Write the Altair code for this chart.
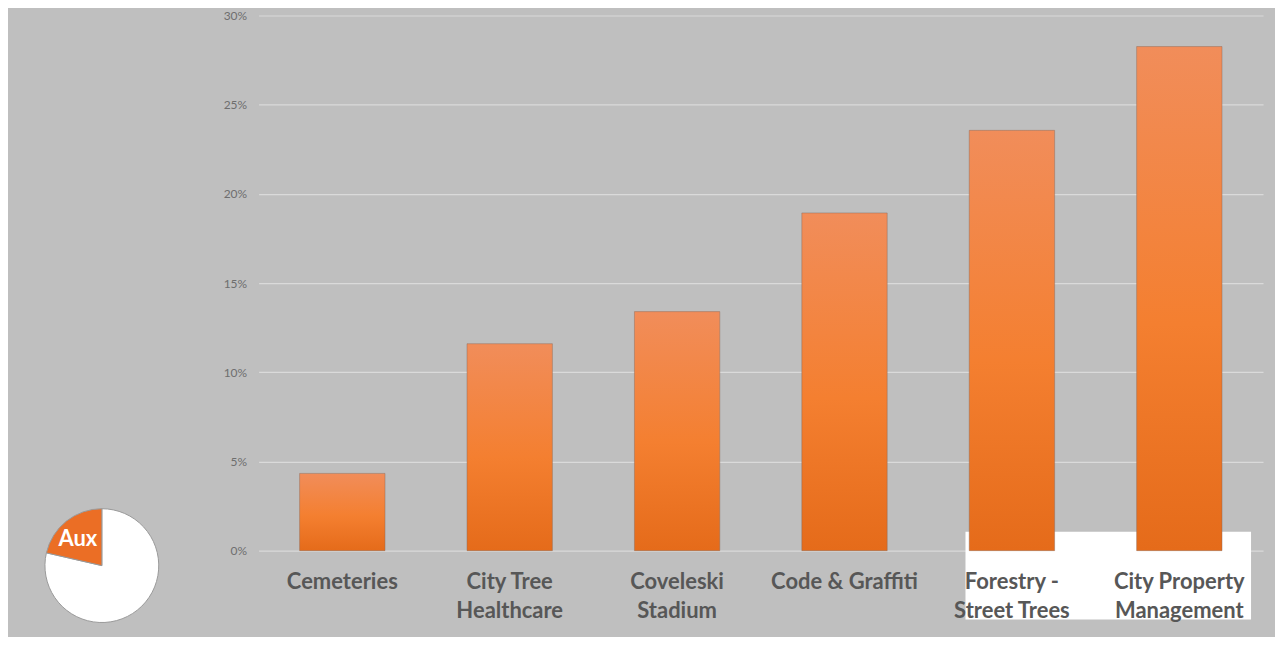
import altair as alt
import pandas as pd

categories = ["Cemeteries", "City Tree|Healthcare", "Coveleski|Stadium", "Code & Graffiti",
              "Forestry -|Street Trees", "City Property|Management"]
values = [0.0433, 0.116, 0.134, 0.1893, 0.2356, 0.2826]
y_ticks = [0, 0.05, 0.10, 0.15, 0.20, 0.25, 0.30]

pie_labels = ["Other", "Aux"]
pie_values = [78.6, 21.4]
pie_colors = ["#FFFFFF", "#EB6E25"]

df = pd.DataFrame({"category": categories, "value": values})
pie_df = pd.DataFrame({"part": pie_labels, "share": pie_values, "order": [0, 1]})

grad = alt.Gradient(
    gradient="linear", x1=0, x2=0, y1=0, y2=1,
    stops=[alt.GradientStop(color="#F18D5A", offset=0),
           alt.GradientStop(color="#F47F30", offset=0.55),
           alt.GradientStop(color="#E56B1A", offset=1)],
)

W, H = 1006, 536

white_box = alt.Chart(pd.DataFrame({"k": [0]})).mark_rect(color="#FFFFFF").encode(
    x=alt.value(708), x2=alt.value(994), y=alt.value(517), y2=alt.value(605)
)

bars = alt.Chart(df).mark_bar(fill=grad, stroke="#8A6A5A", strokeOpacity=0.45, strokeWidth=1).encode(
    x=alt.X("category:N", sort=categories,
            scale=alt.Scale(paddingInner=0.49, paddingOuter=0.245),
            axis=alt.Axis(title=None, labelExpr="split(datum.label, '|')", labelAngle=0,
                          labelFont="Lato", labelFontSize=22, labelFontWeight="bold",
                          labelColor="#575757", labelLineHeight=29, labelPadding=21,
                          ticks=False, domain=False, grid=False, zindex=2)),
    y=alt.Y("value:Q", scale=alt.Scale(domain=[0, 0.30], nice=False),
            axis=alt.Axis(title=None, values=y_ticks, format=".0%", labelFont="Lato",
                          labelFontSize=12, labelColor="#6E6E6E", labelPadding=12,
                          ticks=False, domain=False, grid=True, gridColor="#DADADA",
                          gridWidth=1.2)),
)

bar_chart = alt.layer(white_box, bars).properties(width=W, height=H)

pie_base = alt.Chart(pie_df).encode(
    theta=alt.Theta("share:Q", stack=True),
    order=alt.Order("order:Q"),
    color=alt.Color("part:N", scale=alt.Scale(domain=pie_labels, range=pie_colors), legend=None),
)
pie = pie_base.mark_arc(outerRadius=57, stroke="#9A9A9A", strokeWidth=1).encode(
    x=alt.value(89), y=alt.value(551)
)
aux_text = alt.Chart(pd.DataFrame({"t": ["Aux"]})).mark_text(
    font="Lato", fontSize=22, fontWeight="bold", color="#FFFFFF"
).encode(text="t:N", x=alt.value(65), y=alt.value(524))

pie_chart = alt.layer(pie, aux_text).properties(width=180, height=H)

chart = alt.hconcat(pie_chart, bar_chart, spacing=30).properties(
    padding={"left": 5, "top": 1, "right": 12, "bottom": 12}
).configure(
    background="#BFBFBF"
).configure_view(stroke=None)

chart.save("out.html", embed_options={"renderer": "svg", "actions": False})
